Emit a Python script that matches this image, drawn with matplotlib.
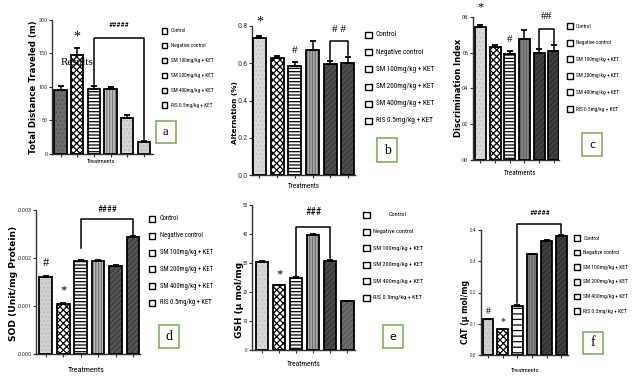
import matplotlib
matplotlib.use("Agg")
import matplotlib.pyplot as plt
from matplotlib.patches import Rectangle
import numpy as np

# ---------------- data ----------------
categories = ["Control", "Negative control", "SM 100mg/kg + KET",
              "SM 200mg/kg + KET", "SM 400mg/kg + KET", "RIS 0.5mg/kg + KET"]

dist_vals = [95, 147.5, 96.5, 96.5, 53.5, 16.5]
dist_err = [5.5, 10, 4, 3, 4, 2.5]
dist_ticks = [0, 50, 100, 150, 200]
dist_ticklabels = ["0", "50", "100", "150", "200"]

alt_vals = [0.734, 0.627, 0.584, 0.671, 0.595, 0.603]
alt_err = [0.012, 0.012, 0.022, 0.05, 0.018, 0.032]
alt_ticks = [0.0, 0.2, 0.4, 0.6, 0.8]
alt_ticklabels = ["0.0", "0.2", "0.4", "0.6", "0.8"]

di_vals = [0.741, 0.629, 0.590, 0.674, 0.599, 0.608]
di_err = [0.013, 0.013, 0.018, 0.052, 0.019, 0.034]
di_ticks = [0.0, 0.2, 0.4, 0.6, 0.8]
di_ticklabels = ["00", "02", "04", "06", "08"]

sod_vals = [0.00160, 0.001035, 0.00194, 0.00193, 0.00183, 0.00244]
sod_err = [0.00002, 0.00002, 0.00002, 0.00002, 0.00002, 0.00002]
sod_ticks = [0.0, 0.001, 0.002, 0.003]
sod_ticklabels = ["0.000", "0.001", "0.002", "0.003"]

gsh_vals = [30.4, 22.3, 24.8, 39.7, 30.7, 16.8]
gsh_err = [0.35, 0.2, 0.3, 0.35, 0.35, 0.25]
gsh_ticks = [0, 10, 20, 30, 40, 50]
gsh_ticklabels = ["0", "10", "20", "30", "40", "50"]

cat_vals = [0.115, 0.083, 0.158, 0.322, 0.365, 0.380]
cat_err = [0.001, 0.001, 0.002, 0.002, 0.002, 0.003]
cat_ticks = [0.0, 0.1, 0.2, 0.3, 0.4]
cat_ticklabels = ["0.0", "0.1", "0.2", "0.3", "0.4"]

# ---------------- setup ----------------
W, H = 640, 386
fig = plt.figure(figsize=(W / 100, H / 100), dpi=100)
fig.patch.set_facecolor("white")
plt.rcParams["hatch.linewidth"] = 0.9

NARROW = ["Roboto Condensed", "Liberation Sans", "DejaVu Sans"]
BOLD = ["DejaVu Sans"]
SERIF = ["Liberation Serif", "DejaVu Serif"]


def fx(x):
    return x / W


def fy(y):
    return 1 - y / H


def make_axes(l, t, r, b):
    return fig.add_axes([fx(l), fy(b), (r - l) / W, (b - t) / H])


def bars(ax, vals, errs, styles, width):
    x = np.arange(len(vals))
    for i, (face, hatch, hcol) in enumerate(styles):
        ax.bar(x[i], vals[i], width=width, color=face, hatch=hatch,
               edgecolor=hcol, linewidth=0, zorder=2)
    ax.bar(x, vals, width=width, fill=False, edgecolor="black",
           linewidth=1.3, zorder=3)
    ax.errorbar(x, vals, yerr=[np.zeros(len(vals)), errs], fmt="none",
                ecolor="black", elinewidth=1.1, capsize=2.3, capthick=1.3,
                zorder=4)


def style_axes(ax, xlim, ylim, ticks, ticklabels, fs):
    ax.set_xlim(*xlim)
    ax.set_ylim(*ylim)
    for s in ["top", "right"]:
        ax.spines[s].set_visible(False)
    for s in ["left", "bottom"]:
        ax.spines[s].set_linewidth(1.0)
        ax.spines[s].set_color("#333333")
    ax.set_xticks(np.arange(6))
    ax.set_xticklabels([])
    ax.set_yticks(ticks)
    ax.set_yticklabels(ticklabels, fontsize=fs, family=NARROW)
    ax.tick_params(axis="both", direction="out", length=2.2, width=0.8,
                   pad=1, colors="#333333")
    ax.patch.set_alpha(0)


def bracket(ax, i1, i2, y, y1, y2):
    ax.plot([i1, i1, i2, i2], [y1, y, y, y2], color="black", lw=1.1,
            clip_on=False, zorder=5)


def mark(ax, x, y, s, fs, fam=NARROW):
    ax.text(x, y, s, ha="center", va="center", fontsize=fs, family=fam,
            clip_on=False, zorder=6)


def legend(x_box, y0, dy, bw, bh, x_text, fs, centered_first=None):
    for k, lab in enumerate(categories):
        yc = y0 + k * dy
        fig.add_artist(Rectangle((fx(x_box), fy(yc + bh / 2)), bw / W, bh / H,
                                 transform=fig.transFigure, facecolor="white",
                                 edgecolor="black", linewidth=1.0))
        if k == 0 and centered_first is not None:
            fig.text(fx(centered_first), fy(yc), lab, ha="center", va="center",
                     fontsize=fs, family=NARROW)
        else:
            fig.text(fx(x_text), fy(yc), lab, ha="left", va="center",
                     fontsize=fs, family=NARROW)


def letter_box(l, t, r, b, s, fam, fs):
    fig.add_artist(Rectangle((fx(l), fy(b)), (r - l) / W, (b - t) / H,
                             transform=fig.transFigure, facecolor="white",
                             edgecolor="#7fb356", linewidth=1.2))
    fig.text(fx((l + r) / 2), fy((t + b) / 2), s, ha="center", va="center",
             fontsize=fs, family=fam)


def xlab(x, y, fs):
    fig.text(fx(x), fy(y), "Treatments", ha="center", va="center",
             fontsize=fs, family=NARROW)


def ylab(x, y, s, fs):
    fig.text(fx(x), fy(y), s, ha="center", va="center", rotation=90,
             fontsize=fs, family=BOLD, fontweight="bold")


XX = ("white", "xxxxx", "black")
HL = ("white", "-----", "black")

# ---------------- panel a ----------------
ax = make_axes(52, 20, 153, 153.5)
st = [("#6e6e6e", "....", "#555555"), XX, HL,
      ("#c8c8c8", "||||||", "#777777"),
      ("#d6d6d6", "....", "#bcbcbc"), ("#d0d0d0", "....", "#b8b8b8")]
bars(ax, dist_vals, dist_err, st, 0.74)
style_axes(ax, (-0.51, 5.54), (0, 200), dist_ticks, dist_ticklabels, 4.4)
bracket(ax, 2, 5, 172.6, 104, 21)
mark(ax, 1, 175, "*", 10, SERIF)
mark(ax, 3.5, 192, "#####", 5.5)
ax.text(1, 137, "Results", ha="center", va="center", fontsize=8,
        family=SERIF, zorder=6)
legend(161.7, 31, 14.8, 5.5, 5, 171, 3.8)
letter_box(156, 121, 175.5, 143, "a", SERIF, 9)
xlab(101, 162, 4.6)
ylab(33.5, 87, "Total Distance Traveled (m)", 6.2)

# ---------------- panel b ----------------
ax = make_axes(252, 26, 355, 175)
st = [("#d9d9d9", "....", "#c4c4c4"), XX, HL,
      ("#ababab", "||||||", "#707070"),
      ("#4f4f4f", "//////", "#383838"), ("#4f4f4f", "//////", "#383838")]
bars(ax, alt_vals, alt_err, st, 0.73)
style_axes(ax, (-0.424, 5.40), (0, 0.8), alt_ticks, alt_ticklabels, 5.8)
bracket(ax, 4, 5, 0.721, 0.625, 0.645)
mark(ax, 0, 0.82, "*", 10, SERIF)
mark(ax, 2, 0.667, "#", 8, SERIF)
mark(ax, 4.5, 0.78, "# #", 8, SERIF)
legend(365, 35, 17.2, 6.5, 6, 376, 5.2)
letter_box(377, 138, 397, 162, "b", SERIF, 10)
xlab(304, 187, 5.0)
ylab(235, 113, "Alternation (%)", 5.2)

# ---------------- panel c ----------------
ax = make_axes(472.7, 16.7, 559, 160)
st = [("#d9d9d9", "....", "#c4c4c4"), XX, HL,
      ("#8a8a8a", "||||||", "#606060"),
      ("#404040", "//////", "#2c2c2c"), ("#404040", "//////", "#2c2c2c")]
bars(ax, di_vals, di_err, st, 0.75)
style_axes(ax, (-0.53, 5.36), (0, 0.8), di_ticks, di_ticklabels, 4.5)
bracket(ax, 4, 5, 0.73, 0.628, 0.65)
mark(ax, 0, 0.855, "*", 9, SERIF)
mark(ax, 2, 0.67, "#", 8, SERIF)
mark(ax, 4.5, 0.80, "##", 8, SERIF)
legend(566.7, 26, 16.6, 6, 6, 576, 3.9)
letter_box(582, 133, 602, 156, "c", ["DejaVu Sans"], 8)
xlab(520.3, 173.3, 5.1)
ylab(458.5, 87.5, "Discrimination Index", 6.0)

# ---------------- panel d ----------------
ax = make_axes(36, 210, 140, 354)
st = [("#d0d0d0", "....", "#bcbcbc"), XX, HL,
      ("#bdbdbd", "||||||", "#707070"),
      ("#555555", "//////", "#3a3a3a"), ("#555555", "//////", "#3a3a3a")]
bars(ax, sod_vals, sod_err, st, 0.72)
style_axes(ax, (-0.56, 5.4), (0, 0.003), sod_ticks, sod_ticklabels, 4.4)
bracket(ax, 2, 5, 0.00281, 0.0022, 0.00248)
mark(ax, 0, 0.00189, "#", 9, SERIF)
mark(ax, 1, 0.00132, "*", 9, SERIF)
mark(ax, 3.5, 0.00301, "####", 6.5)
legend(149, 219, 16.8, 6, 6, 160, 4.8)
letter_box(159, 325, 179, 348, "d", SERIF, 10)
xlab(86.3, 370, 5.9)
ylab(14, 283.5, "SOD (Unit/mg Protein)", 6.6)

# ---------------- panel e ----------------
ax = make_axes(252.3, 205, 355, 350)
st = [("#d8d8d8", "....", "#c4c4c4"), XX, HL,
      ("#acacac", "||||||", "#707070"),
      ("#4a4a4a", "//////", "#333333"), ("#6e6e6e", "//////", "#555555")]
bars(ax, gsh_vals, gsh_err, st, 0.73)
style_axes(ax, (-0.57, 5.45), (0, 50), gsh_ticks, gsh_ticklabels, 3.9)
bracket(ax, 2, 4, 42.3, 25.4, 31.6)
mark(ax, 1, 26.1, "*", 9, SERIF)
mark(ax, 3, 47.7, "###", 7)
legend(363.3, 215, 16.6, 6.5, 6, 373.3, 4.5, centered_first=398)
letter_box(383, 325, 403, 348, "e", ["DejaVu Sans"], 8)
xlab(303.3, 364, 5.4)
ylab(239.5, 299.5, "GSH (\u00b5 mol/mg", 6.5)

# ---------------- panel f ----------------
ax = make_axes(480.7, 230, 567.5, 355)
st = [("#d0d0d0", "....", "#bcbcbc"), XX, ("white", "---", "black"),
      ("#8c8c8c", "||||||", "#606060"),
      ("#404040", "//////", "#2c2c2c"), ("#404040", "//////", "#2c2c2c")]
bars(ax, cat_vals, cat_err, st, 0.72)
style_axes(ax, (-0.5, 5.42), (0, 0.4), cat_ticks, cat_ticklabels, 3.6)
bracket(ax, 2, 5, 0.418, 0.168, 0.388)
mark(ax, 0, 0.138, "#", 7, SERIF)
mark(ax, 1, 0.107, "*", 7, SERIF)
mark(ax, 3.5, 0.455, "#####", 5.5)
legend(574, 238, 14.6, 6, 5.5, 583.3, 4.1)
letter_box(583, 332, 603, 354, "f", SERIF, 10)
xlab(524.7, 370, 4.6)
ylab(465, 311.5, "CAT (\u00b5 mol/mg", 5.6)

fig.savefig("out.png", dpi=100)
